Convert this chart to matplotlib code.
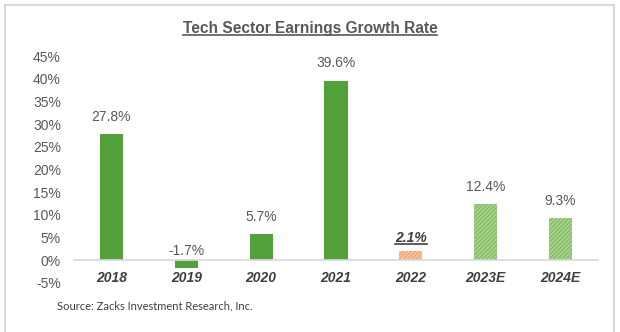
import matplotlib.pyplot as plt
from matplotlib.lines import Line2D
from matplotlib.transforms import IdentityTransform

# tech sector earnings growth, actuals and estimates
years = ["2018", "2019", "2020", "2021", "2022", "2023E", "2024E"]
growth = [27.8, -1.7, 5.7, 39.6, 2.1, 12.4, 9.3]
y_ticks = [-5, 0, 5, 10, 15, 20, 25, 30, 35, 40, 45]

SOLID = "#53A13A"
plt.rcParams["font.family"] = ["Liberation Sans", "DejaVu Sans"]
plt.rcParams["hatch.linewidth"] = 0.7

fig = plt.figure(figsize=(6.2, 3.32), dpi=100)
ax = fig.add_axes([74 / 620, 49 / 332, 524 / 620, 227 / 332])

x = list(range(len(years)))
for i, v in enumerate(growth):
    if years[i].endswith("E"):
        ax.bar(i, v, width=0.31, color="#A6D38C", edgecolor="#78B858",
               hatch="////////", linewidth=0)
    elif years[i] == "2022":
        ax.bar(i, v, width=0.31, color="#F8C3A0", edgecolor="#EF9A60",
               hatch="////////", linewidth=0)
    else:
        ax.bar(i, v, width=0.31, color=SOLID, linewidth=0)

# zero line doubles as the category axis; set it before styling tick labels
for s in ["top", "right", "left"]:
    ax.spines[s].set_visible(False)
ax.spines["bottom"].set_position(("data", 0))
ax.spines["bottom"].set_color("#D9D9D9")
ax.spines["bottom"].set_linewidth(1.2)

ax.set_xlim(-0.5, len(years) - 0.5)
ax.set_ylim(-5, 45)
ax.set_yticks(y_ticks)
ax.set_yticklabels([f"{t}%" for t in y_ticks])
ax.set_xticks(x)
ax.set_xticklabels(years, fontweight="bold", fontstyle="italic")
ax.tick_params(axis="y", length=0, pad=9.5, labelsize=10, labelcolor="#595959")
ax.tick_params(axis="x", length=0, pad=8, labelsize=10, labelcolor="#404040")

underlined = []
for i, v in enumerate(growth):
    txt = f"{v:.1f}%"
    if v < 0:
        t = ax.annotate(txt, (i, 0), xytext=(0, 7), textcoords="offset points",
                        ha="center", va="center", fontsize=10, color="#595959")
    elif years[i] == "2022":
        t = ax.annotate(txt, (i, v), xytext=(0, 9.5), textcoords="offset points",
                        ha="center", va="center", fontsize=10, color="#404040",
                        fontweight="bold", fontstyle="italic")
        underlined.append(t)
    else:
        t = ax.annotate(txt, (i, v), xytext=(0, 12.5), textcoords="offset points",
                        ha="center", va="center", fontsize=10, color="#595959")

title = fig.text(0.5, 1 - 28 / 332, "Tech Sector Earnings Growth Rate",
                 ha="center", va="center", fontsize=11.2, fontweight="bold",
                 color="#595959")
underlined.append(title)

fig.text(57 / 620, 1 - 306 / 332, "Source: Zacks Investment Research, Inc.",
         ha="left", va="center", fontsize=8, family="Lato", color="#404040")

# light frame around the chart area (no bottom edge)
frame = dict(color="#D9D9D9", linewidth=1.5, transform=IdentityTransform())
fig.add_artist(Line2D([5, 5], [0, 327], **frame))
fig.add_artist(Line2D([5, 614], [327, 327], **frame))
fig.add_artist(Line2D([614, 614], [0, 327], **frame))

# underline the title and the 2022 label
fig.canvas.draw()
renderer = fig.canvas.get_renderer()
for t in underlined:
    bb = t.get_window_extent(renderer)
    fig.add_artist(Line2D([bb.x0, bb.x1], [bb.y0 + 1, bb.y0 + 1],
                          color=t.get_color(), linewidth=1.2,
                          transform=IdentityTransform()))

fig.savefig("out.png", dpi=100)
